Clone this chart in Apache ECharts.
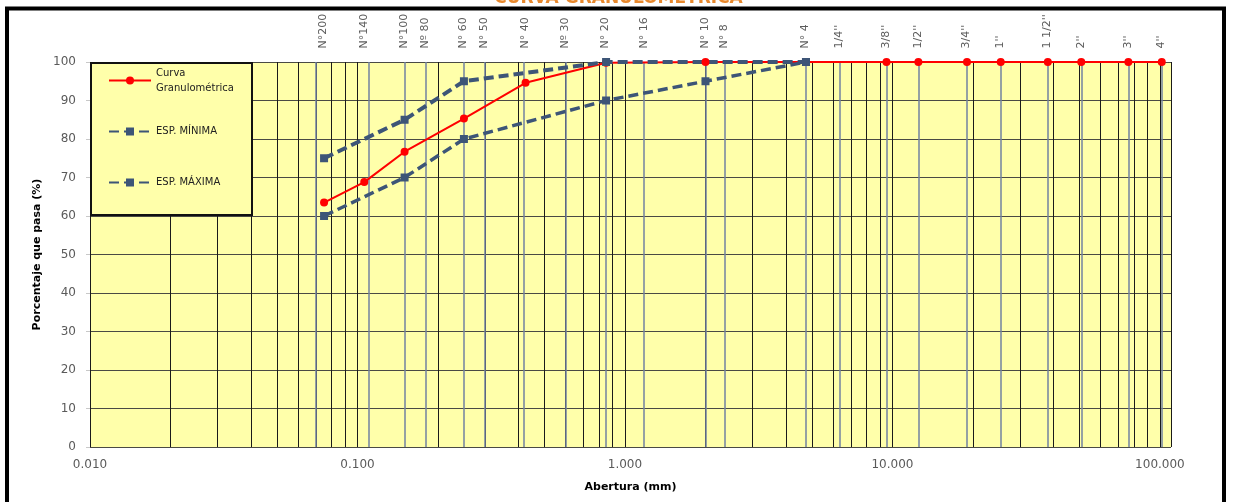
<!DOCTYPE html>
<html><head><meta charset="utf-8">
<script src="https://cdn.jsdelivr.net/npm/echarts@6/dist/echarts.min.js"></script>
<style>html,body{margin:0;padding:0;background:#fff}#c{width:1237px;height:502px}</style>
</head><body><div id="c"></div>
<script>
// ---- data ----
const xTickValues = [0.01, 0.1, 1, 10, 100];
const xTickLabels = ['0.010', '0.100', '1.000', '10.000', '100.000'];
const minorGrid = [0.02,0.03,0.04,0.05,0.06,0.07,0.08,0.09,
                   0.2,0.3,0.4,0.5,0.6,0.7,0.8,0.9,
                   2,3,4,5,6,7,8,9,
                   20,30,40,50,60,70,80,90];
const sieveNames = ['N°200','N°140','N°100','Nº 80','N° 60','N° 50','N° 40','Nº 30','N° 20','N° 16','N° 10','N° 8','N° 4',
                    "1/4''","3/8''","1/2''","3/4''","1''","1 1/2''","2''","3''","4''"];
const sieveSizes = [0.075,0.106,0.15,0.18,0.25,0.30,0.425,0.60,0.85,1.18,2.00,2.36,4.75,
                    6.35,9.5,12.5,19.0,25.4,38.1,50.8,76.2,101.6];
const curvaX = [0.075,0.106,0.15,0.25,0.425,0.85,2.00,4.75,9.5,12.5,19.0,25.4,38.1,50.8,76.2,101.6];
const curvaY = [63.5,68.8,76.7,85.3,94.6,99.8,100,100,100,100,100,100,100,100,100,100];
const minX = [0.075,0.15,0.25,0.85,4.75];
const minY = [75,85,95,100,100];
const maxX = [0.075,0.15,0.25,0.85,2.00,4.75];
const maxY = [60,70,80,90,95,100];

const FF = 'DejaVu Sans';
const BLUE = '#3D5577';
const YEL = '#FFFFAA';
const CURVE = 'Curva Granulométrica';

const chart = echarts.init(document.getElementById('c'), null, {renderer: 'canvas'});
chart.setOption({
  animation: false,
  title: {
    text: 'CURVA GRANULOMÉTRICA', left: 'center', top: -10, padding: 0,
    textStyle: {color: '#E8892E', fontSize: 17, fontWeight: 'bold', fontFamily: FF}
  },
  graphic: [
    {type: 'rect', z: 3, silent: true, shape: {x: 91, y: 63, width: 161, height: 152},
     style: {fill: YEL, stroke: '#111', lineWidth: 2}},
    {type: 'rect', z: 10, silent: true, shape: {x: 7, y: 8.5, width: 1217, height: 1000},
     style: {fill: 'none', stroke: '#000', lineWidth: 4}}
  ],
  legend: {
    orient: 'vertical', left: 108, top: 58, padding: 0, itemGap: 6,
    itemWidth: 42, itemHeight: 10, selectedMode: false,
    textStyle: {fontFamily: FF, fontSize: 10, color: '#222', lineHeight: 15},
    formatter: n => n === CURVE ? 'Curva\nGranulométrica' : n,
    data: [
      {name: CURVE, textStyle: {padding: [15, 0, 0, 0]}},
      {name: 'ESP. MÍNIMA', textStyle: {padding: [15, 0, 15, 0]}},
      {name: 'ESP. MÁXIMA', textStyle: {padding: [15, 0, 15, 0]}}
    ]
  },
  grid: {left: 90, right: 66, top: 62, bottom: 55, show: true, backgroundColor: YEL, borderWidth: 0},
  xAxis: {
    type: 'log', logBase: 10, min: 0.01, max: 110,
    axisLine: {show: false}, axisTick: {show: false},
    splitLine: {show: true, lineStyle: {color: '#1a1a1a', width: 1}},
    axisLabel: {
      margin: 12, color: '#5a5a5a', fontSize: 12, fontFamily: FF,
      formatter: v => {
        const i = xTickValues.findIndex(t => Math.abs(t - v) / t < 1e-6);
        return i >= 0 ? xTickLabels[i] : '';
      }
    },
    name: 'Abertura (mm)', nameLocation: 'middle', nameGap: 35,
    nameTextStyle: {fontFamily: FF, fontSize: 11, fontWeight: 'bold', color: '#000'}
  },
  yAxis: {
    type: 'value', min: 0, max: 100, interval: 10,
    axisLine: {show: false},
    axisTick: {show: true, length: 4, lineStyle: {color: '#c8c8c8'}},
    splitLine: {show: true, lineStyle: {color: '#4a4a44', width: 1.2}},
    axisLabel: {margin: 14, color: '#5a5a5a', fontSize: 12, fontFamily: FF},
    name: 'Porcentaje que pasa (%)', nameLocation: 'middle', nameGap: 47, nameRotate: 90,
    nameTextStyle: {fontFamily: FF, fontSize: 11, fontWeight: 'bold', color: '#000'}
  },
  series: [
    {
      type: 'line', name: '_minor', data: [], silent: true,
      markLine: {
        silent: true, z: 1, symbol: ['none', 'none'], label: {show: false},
        lineStyle: {color: '#1a1a1a', width: 1, type: 'solid'},
        emphasis: {disabled: true}, animation: false,
        data: minorGrid.map(v => ({xAxis: v}))
      }
    },
    {
      type: 'scatter', name: '_sieves', silent: true, clip: false, z: 1,
      data: sieveSizes.map(s => [s, 100]),
      symbolSize: 1, itemStyle: {color: 'rgba(0,0,0,0)'},
      label: {
        show: true, formatter: p => sieveNames[p.dataIndex],
        position: [0, -13], rotate: 90, align: 'left', verticalAlign: 'middle',
        fontSize: 11, fontFamily: FF, color: '#333'
      },
      markLine: {
        silent: true, z: 1, symbol: ['none', 'none'], label: {show: false},
        lineStyle: {color: '#7282a0', width: 1.5, type: 'solid'},
        emphasis: {disabled: true}, animation: false,
        data: sieveSizes.map(v => ({xAxis: v}))
      }
    },
    {
      type: 'line', name: CURVE, clip: false, z: 2,
      data: curvaX.map((x, i) => [x, curvaY[i]]),
      symbol: 'circle', symbolSize: 8,
      lineStyle: {color: '#FF0000', width: 2},
      itemStyle: {color: '#FF0000'}
    },
    {
      type: 'line', name: 'ESP. MÍNIMA', clip: false, z: 2,
      data: minX.map((x, i) => [x, minY[i]]),
      symbol: 'rect', symbolSize: 8,
      lineStyle: {color: BLUE, width: 4, type: [10, 5]},
      itemStyle: {color: BLUE}
    },
    {
      type: 'line', name: 'ESP. MÁXIMA', clip: false, z: 2,
      data: maxX.map((x, i) => [x, maxY[i]]),
      symbol: 'rect', symbolSize: 8,
      lineStyle: {color: BLUE, width: 3.5, type: [10, 5]},
      itemStyle: {color: BLUE}
    }
  ]
});
</script>
</body></html>
